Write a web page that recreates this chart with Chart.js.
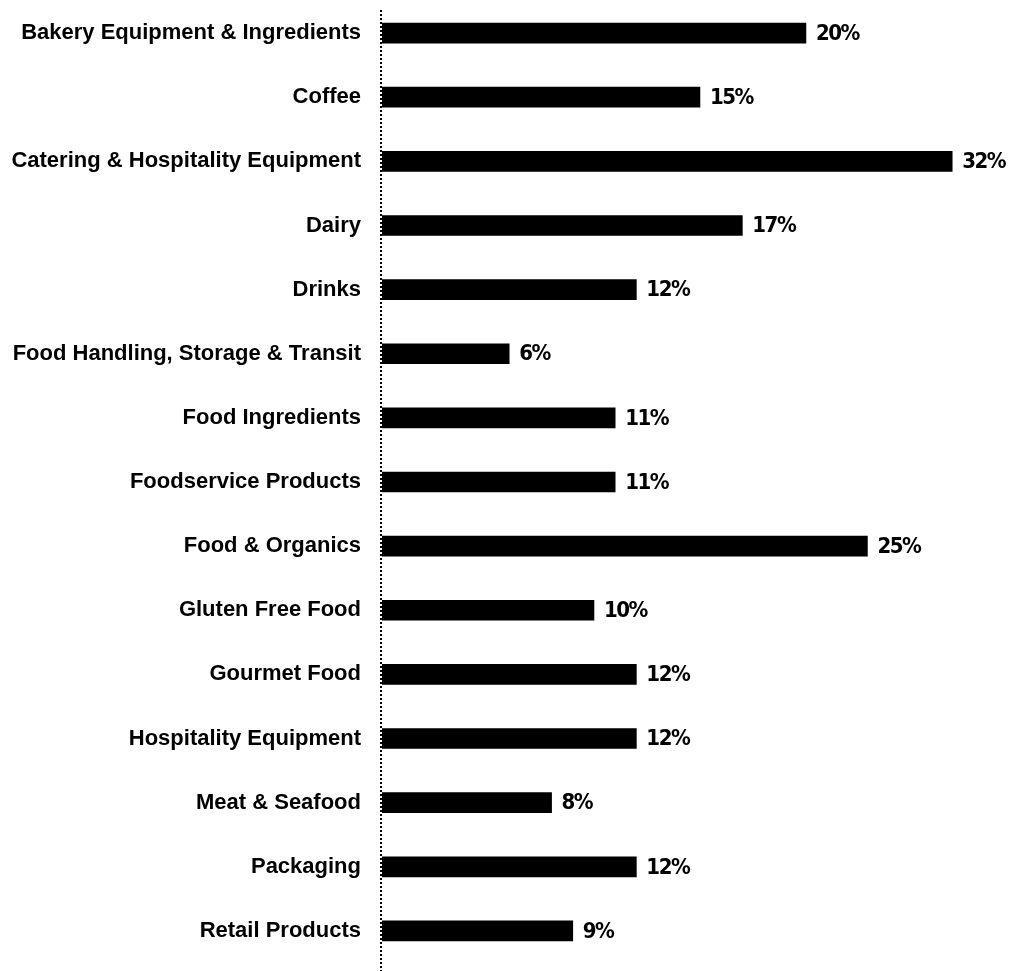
<!DOCTYPE html>
<html>
<head>
<meta charset="utf-8">
<script src="https://cdn.jsdelivr.net/npm/chart.js@4"></script>
<style>
  html, body { margin: 0; padding: 0; background: #fff; }
  #wrap { width: 1009px; height: 971px; }
</style>
</head>
<body>
<div id="wrap"><canvas id="bars"></canvas></div>
<script>
const categories = [
    "Bakery Equipment & Ingredients",
    "Coffee",
    "Catering & Hospitality Equipment",
    "Dairy",
    "Drinks",
    "Food Handling, Storage & Transit",
    "Food Ingredients",
    "Foodservice Products",
    "Food & Organics",
    "Gluten Free Food",
    "Gourmet Food",
    "Hospitality Equipment",
    "Meat & Seafood",
    "Packaging",
    "Retail Products"];

// bar lengths as drawn in the picture (the two longest are drawn short of their printed value)
const barLengths = [20, 15, 26.9, 17, 12, 6, 11, 11, 22.9, 10, 12, 12, 8, 12, 9];

// printed value labels
const valueLabels = ["20%", "15%", "32%", "17%", "12%", "6%", "11%", "11%", "25%", "10%", "12%", "12%", "8%", "12%", "9%"];

const AXIS_LEFT = 382;

// dotted vertical axis line, running past the plot area
const axisLine = {
    id: 'axisLine',
    afterDatasetsDraw(chart) {
        const ctx = chart.ctx;
        ctx.save();
        ctx.strokeStyle = '#000';
        ctx.lineWidth = 2;
        ctx.setLineDash([2, 2]);
        ctx.beginPath();
        ctx.moveTo(chart.chartArea.left - 1, 10);
        ctx.lineTo(chart.chartArea.left - 1, chart.height);
        ctx.stroke();
        ctx.restore();
    }
};

const valueText = {
    id: 'valueText',
    afterDatasetsDraw(chart) {
        const ctx = chart.ctx;
        const meta = chart.getDatasetMeta(0);
        ctx.save();
        ctx.fillStyle = '#000';
        ctx.font = "bold 22px 'DejaVu Sans Condensed', 'Liberation Sans Narrow', sans-serif";
        ctx.letterSpacing = '-1.5px';
        ctx.textBaseline = 'middle';
        ctx.textAlign = 'left';
        meta.data.forEach((bar, i) => {
            ctx.fillText(valueLabels[i], bar.x + 10, bar.y + 1);
        });
        ctx.restore();
    }
};

new Chart(document.getElementById('bars').getContext('2d'), {
    type: 'bar',
    data: {
        labels: categories,
        datasets: [{
            data: barLengths,
            backgroundColor: '#000',
            borderWidth: 0,
            barThickness: 20
        }]
    },
    options: {
        indexAxis: 'y',
        responsive: true,
        maintainAspectRatio: false,
        animation: false,
        layout: { padding: { top: 1, bottom: 8, left: 0, right: 0 } },
        plugins: {
            legend: { display: false },
            tooltip: { enabled: false }
        },
        scales: {
            x: {
                display: false,
                min: 0,
                max: 29.58
            },
            y: {
                afterFit(scale) {
                    scale.width = AXIS_LEFT;
                    scale.paddingTop = 0;
                    scale.paddingBottom = 0;
                },
                grid: { display: false, drawTicks: false },
                border: { display: false },
                ticks: {
                    color: '#000',
                    padding: 21,
                    font: { family: "'Liberation Sans', Arial, sans-serif", size: 22, weight: 'bold' }
                }
            }
        }
    },
    plugins: [axisLine, valueText]
});
</script>
</body>
</html>
